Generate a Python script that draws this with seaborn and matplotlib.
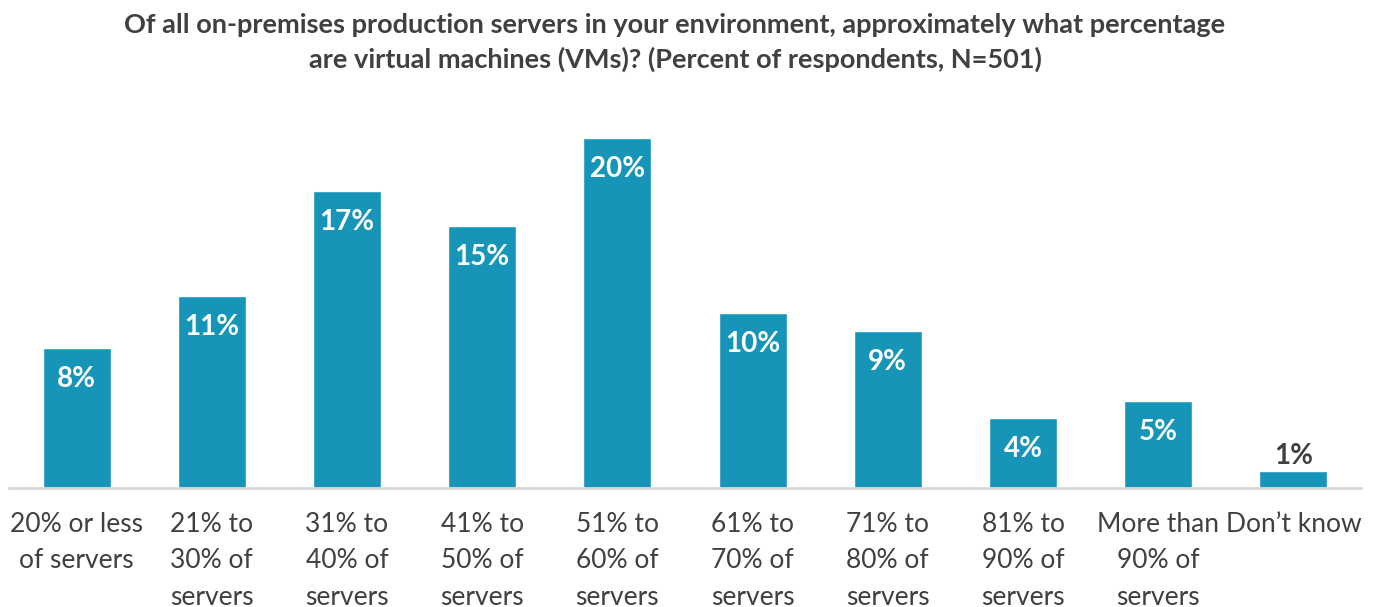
import matplotlib
matplotlib.use("Agg")
import matplotlib.pyplot as plt
import seaborn as sns
import pandas as pd

categories = [
    "20% or less\nof servers",
    "21% to\n30% of\nservers",
    "31% to\n40% of\nservers",
    "41% to\n50% of\nservers",
    "51% to\n60% of\nservers",
    "61% to\n70% of\nservers",
    "71% to\n80% of\nservers",
    "81% to\n90% of\nservers",
    "More than\n90% of\nservers",
    "Don\u2019t know",
]
values = [8, 11, 17, 15, 20, 10, 9, 4, 5, 1]
value_labels = ["8%", "11%", "17%", "15%", "20%", "10%", "9%", "4%", "5%", "1%"]

title = ("Of all on-premises production servers in your environment, approximately what percentage\n"
         "are virtual machines (VMs)? (Percent of respondents, N=501)")

sns.set_theme(style="white")
plt.rcParams["font.family"] = ["Lato", "DejaVu Sans"]

bar_color = "#1795b9"
text_color = "#404040"

df = pd.DataFrame({"category": categories, "value": values})

fig = plt.figure(figsize=(13.75, 6.07), dpi=100)
ax = fig.add_axes([9 / 1375, (607 - 488) / 607, 1352 / 1375, 22 * 17.5 / 607])

sns.barplot(data=df, x="category", y="value", color=bar_color, width=0.503,
            saturation=1, ax=ax)

ax.set_xlim(-0.5, len(categories) - 0.5)
ax.set_ylim(0, 22)
ax.set_xlabel("")
ax.set_ylabel("")
ax.set_yticks([])
for side in ["top", "right", "left"]:
    ax.spines[side].set_visible(False)
ax.spines["bottom"].set_color("#d9d9d9")
ax.spines["bottom"].set_linewidth(2)
ax.tick_params(axis="x", length=0, pad=17, labelsize=19, labelcolor=text_color)
for lbl in ax.get_xticklabels():
    lbl.set_linespacing(1.58)
    lbl.set_verticalalignment("top")

for i, (v, lab) in enumerate(zip(values, value_labels)):
    if v >= 3:
        ax.annotate(lab, (i, v), xytext=(0, -13), textcoords="offset points",
                    ha="center", va="top", color="white", fontsize=20, fontweight="bold")
    else:
        ax.annotate(lab, (i, v), xytext=(0, 1), textcoords="offset points",
                    ha="center", va="bottom", color=text_color, fontsize=20, fontweight="bold")

fig.text(675 / 1375, 1 - 13 / 607, title, ha="center", va="top", fontsize=19.5,
         fontweight="bold", color=text_color, linespacing=1.44)

fig.savefig("out.png", dpi=100)
